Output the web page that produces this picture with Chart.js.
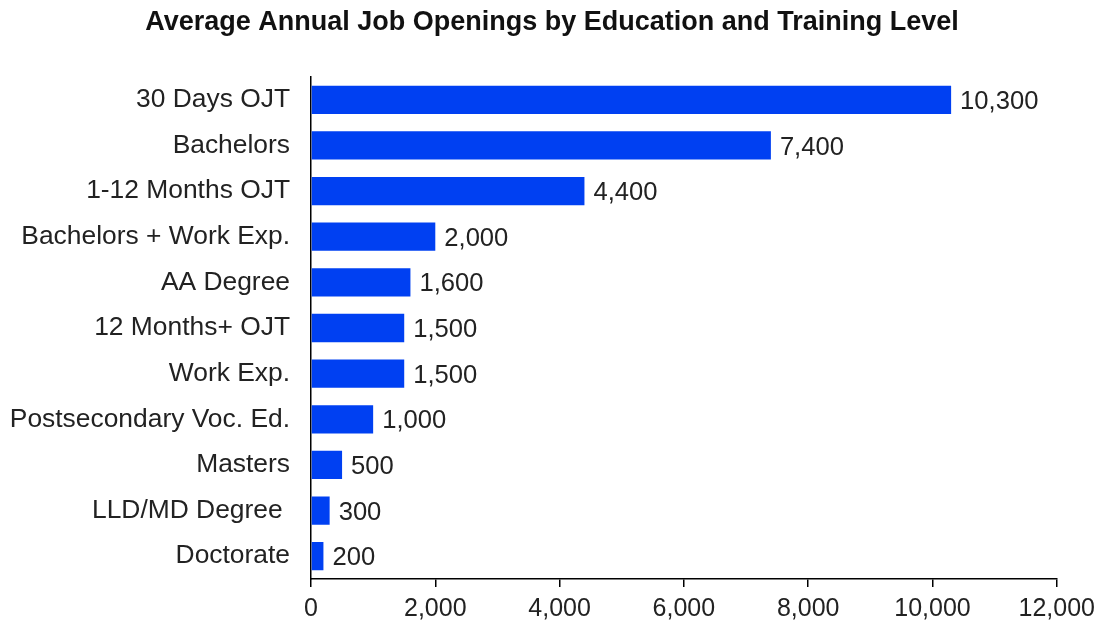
<!DOCTYPE html>
<html>
<head>
<meta charset="utf-8">
<title>Average Annual Job Openings</title>
<script src="https://cdn.jsdelivr.net/npm/chart.js@4.4.1/dist/chart.umd.min.js"></script>
<style>
	html, body { margin: 0; padding: 0; background: #fff; }
	#wrap { width: 1102px; height: 628px; position: relative; }
</style>
</head>
<body>
<div id="wrap"><canvas id="chart-openings"></canvas></div>
<script>
const chartTitle = 'Average Annual Job Openings by Education and Training Level';
const levels = [
	'30 Days OJT', 'Bachelors', '1-12 Months OJT', 'Bachelors + Work Exp.',
	'AA Degree', '12 Months+ OJT', 'Work Exp.', 'Postsecondary Voc. Ed.',
	'Masters', 'LLD/MD Degree ', 'Doctorate'
];
const openings = [10300, 7400, 4400, 2000, 1600, 1500, 1500, 1000, 500, 300, 200];
const xTicks = [0, 2000, 4000, 6000, 8000, 10000, 12000];

const FONT = "'Liberation Sans', Arial, sans-serif";

function fmt(n){
	return Number(n).toLocaleString('en-US');
}

// value text just past the end of each bar
const barValues = {
	id: 'barValues',
	afterDatasetsDraw(chart){
		const ctx = chart.ctx;
		const meta = chart.getDatasetMeta(0);
		ctx.save();
		ctx.font = '25.6px ' + FONT;
		ctx.fillStyle = '#222';
		ctx.textAlign = 'left';
		ctx.textBaseline = 'middle';
		meta.data.forEach((bar, i) => {
			ctx.fillText(fmt(openings[i]), bar.x + 9, bar.y + 2);
		});
		ctx.restore();
	}
};

// title centred on the whole canvas, not on the padded layout box
const canvasTitle = {
	id: 'canvasTitle',
	afterDraw(chart){
		const ctx = chart.ctx;
		ctx.save();
		ctx.font = 'bold 27px ' + FONT;
		ctx.fillStyle = '#111';
		ctx.textAlign = 'center';
		ctx.textBaseline = 'middle';
		ctx.fillText(chartTitle, chart.width / 2 + 1, 23);
		ctx.restore();
	}
};

const ctx = document.getElementById('chart-openings').getContext('2d');
new Chart(ctx, {
	type: 'bar',
	data: {
		labels: levels,
		datasets: [{
			data: openings,
			backgroundColor: '#0040f2',
			borderWidth: 0,
			barPercentage: 0.62,
			categoryPercentage: 1
		}]
	},
	options: {
		indexAxis: 'y',
		responsive: true,
		maintainAspectRatio: false,
		animation: false,
		layout: { padding: { top: 77, right: 42, bottom: 0, left: 0 } },
		scales: {
			x: {
				min: 0,
				max: 12000,
				afterBuildTicks(scale){ scale.ticks = xTicks.map(v => ({ value: v })); },
				afterFit(scale){ scale.height = 49; },
				grid: { drawOnChartArea: false, drawTicks: true, tickLength: 8, color: '#000', lineWidth: 1.5 },
				border: { color: '#000', width: 1.5 },
				ticks: {
					color: '#222',
					padding: 7,
					maxRotation: 0,
					font: { family: FONT, size: 25 },
					callback: v => fmt(v)
				}
			},
			y: {
				afterFit(scale){ scale.width = 311; },
				grid: { drawOnChartArea: false, drawTicks: false },
				border: { color: '#000', width: 1.5 },
				ticks: {
					color: '#222',
					padding: 21,
					font: { family: FONT, size: 26.4 }
				}
			}
		},
		plugins: {
			legend: { display: false },
			tooltip: { enabled: false },
			title: { display: false }
		}
	},
	plugins: [barValues, canvasTitle]
});
</script>
</body>
</html>
